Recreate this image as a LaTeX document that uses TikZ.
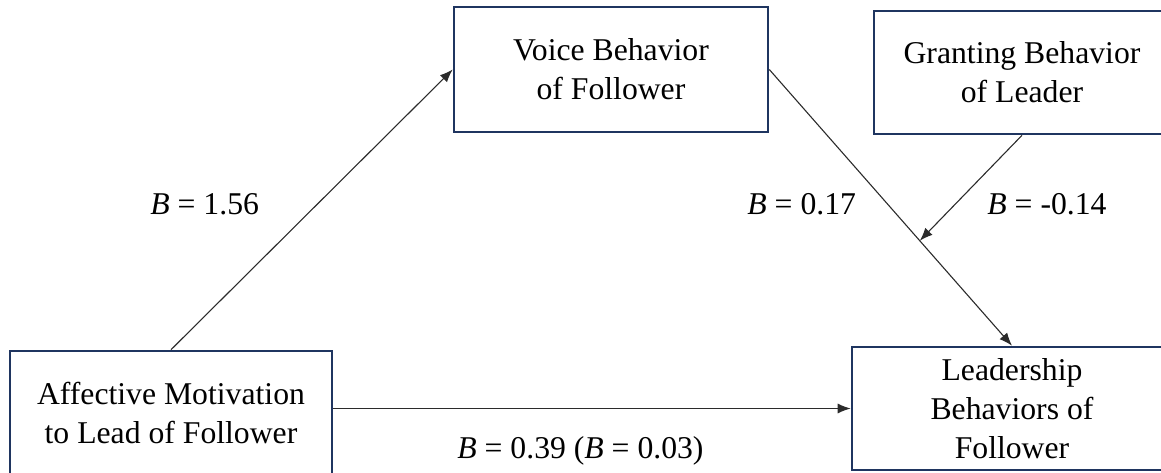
\documentclass[tikz,border=0pt]{standalone}
\usepackage{fontspec}
\setmainfont{Liberation Serif}
\usetikzlibrary{arrows.meta,calc}
\definecolor{boxnavy}{HTML}{1F3560}
\definecolor{linegray}{HTML}{2B2B2B}
\begin{document}
\begin{tikzpicture}[x=0.5pt,y=-0.5pt,
  box/.style={draw=boxnavy,line width=1.3pt,fill=white,align=center,inner sep=0pt,
    font=\fontsize{15.85}{19.5}\selectfont},
  conn/.style={draw=linegray,line width=0.55pt,-{Latex[length=6.5pt,width=5pt]}},
  lbl/.style={anchor=base west,inner sep=0pt,font=\fontsize{15.85}{19}\selectfont}]
\useasboundingbox (0,0) rectangle (1161,472);
\clip (0,0) rectangle (1161,472);
\node[box,minimum width=157pt,minimum height=62.5pt] (voice) at (611,69.5) {Voice Behavior\\of Follower};
\node[box,minimum width=148pt,minimum height=61.5pt] (grant) at (1022,72.5) {Granting Behavior\\of Leader};
\node[box,minimum width=161pt,minimum height=62pt] (aff) at (171,413) {Affective Motivation\\to Lead of Follower};
\node[box,minimum width=160pt,minimum height=61.5pt] (lead) at (1012,408.5) {Leadership\\Behaviors of\\Follower};
\coordinate (mid) at ($(voice.east)!0.62!(lead.north)$);
\draw[conn] (aff.north) -- (voice.west);
\draw[conn] (voice.east) -- (lead.north);
\draw[conn] (grant.south) -- (mid);
\draw[conn] (aff.east |- lead.west) -- (lead.west);
\node[lbl] (l1) at (150,214) {\textit{B} = 1.56};
\node[lbl] (l2) at (747,214) {\textit{B} = 0.17};
\node[lbl] (l3) at (987,214) {\textit{B} = -0.14};
\node[lbl] (l4) at (457,458) {\textit{B} = 0.39 (\textit{B} = 0.03)};
\end{tikzpicture}
\end{document}
